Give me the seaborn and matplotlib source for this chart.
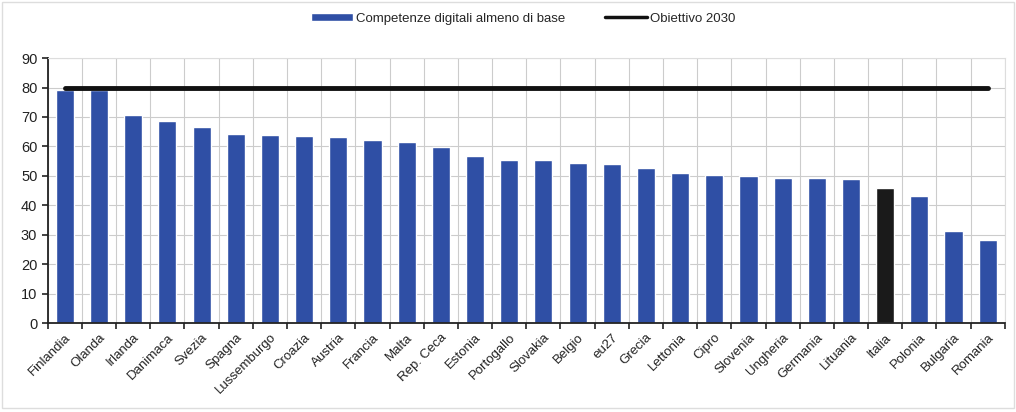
import numpy as np
import pandas as pd
import matplotlib
matplotlib.use("Agg")
import matplotlib.pyplot as plt
from matplotlib.patches import Patch
from matplotlib.lines import Line2D
import seaborn as sns

paesi = ["Finlandia", "Olanda", "Irlanda", "Danimaca", "Svezia", "Spagna", "Lussemburgo",
         "Croazia", "Austria", "Francia", "Malta", "Rep. Ceca", "Estonia", "Portogallo",
         "Slovakia", "Belgio", "eu27", "Grecia", "Lettonia", "Cipro", "Slovenia",
         "Ungheria", "Germania", "Lituania", "Italia", "Polonia", "Bulgaria", "Romania"]
valori = [79.2, 79.0, 70.6, 68.7, 66.5, 64.2, 63.8, 63.4, 63.3, 62.1, 61.5, 59.7, 56.6,
          55.4, 55.3, 54.3, 53.9, 52.6, 50.9, 50.4, 49.9, 49.2, 49.1, 49.0, 45.8, 43.0,
          31.4, 28.1]
obiettivo = 80
evidenziato = "Italia"

blu = "#2F4FA5"
nero = "#1A1A1A"

df = pd.DataFrame({"paese": paesi, "valore": valori})
df["gruppo"] = np.where(df["paese"] == evidenziato, "it", "altri")

sns.set_theme(style="white")
plt.rcParams['font.family'] = ['Liberation Sans', 'DejaVu Sans']

fig = plt.figure(figsize=(10.16, 4.12), dpi=100)
ax = fig.add_axes([0.047, 0.216, 0.942, 0.643])

sns.barplot(data=df, x="paese", y="valore", hue="gruppo",
            palette={"altri": blu, "it": nero}, dodge=False, width=0.53,
            legend=False, ax=ax, saturation=1)

n = len(paesi)
ax.plot([0, n - 1], [obiettivo, obiettivo], color="#111111", lw=3.5, zorder=5,
        solid_capstyle="round")

ax.set_xlim(-0.5, n - 0.5)
ax.set_ylim(0, 90)
ax.set_yticks(np.arange(0, 91, 10))
ax.set_xlabel("")
ax.set_ylabel("")

ax.set_xticks(np.arange(n))
ax.set_xticklabels(paesi, rotation=45, ha="right", rotation_mode="anchor", fontsize=9.5,
                   color="#222222")
ax.set_xticks(np.arange(-0.5, n, 1), minor=True)
ax.tick_params(axis="x", which="major", length=0, pad=6)
ax.tick_params(axis="x", which="minor", length=4, width=1.2, color="#222222", direction="out",
               bottom=True)
ax.tick_params(axis="y", length=4, width=1.2, color="#222222", left=True, labelsize=10.5,
               labelcolor="#222222")

ax.grid(False)
ax.yaxis.grid(True, color="#cccccc", lw=0.8)
ax.xaxis.grid(True, which="minor", color="#cccccc", lw=0.8)
ax.set_axisbelow(True)

for s in ["top", "right"]:
    ax.spines[s].set_visible(True)
    ax.spines[s].set_color("#dddddd")
    ax.spines[s].set_linewidth(0.8)
for s in ["left", "bottom"]:
    ax.spines[s].set_color("#222222")
    ax.spines[s].set_linewidth(1.3)

handles = [Patch(facecolor=blu, label="Competenze digitali almeno di base"),
           Line2D([0], [0], color="#111111", lw=2.5, label="Obiettivo 2030")]
fig.legend(handles=handles, loc="center", bbox_to_anchor=(0.515, 0.955), ncol=2,
           frameon=False, fontsize=9.5, handlelength=3.2, handleheight=0.5,
           columnspacing=3, handletextpad=0.2)

fig.patches.append(plt.Rectangle((0.002, 0.01), 0.996, 0.985, transform=fig.transFigure,
                                 fill=False, edgecolor="#dddddd", lw=1))

fig.savefig("out.png", dpi=100, facecolor="white")
